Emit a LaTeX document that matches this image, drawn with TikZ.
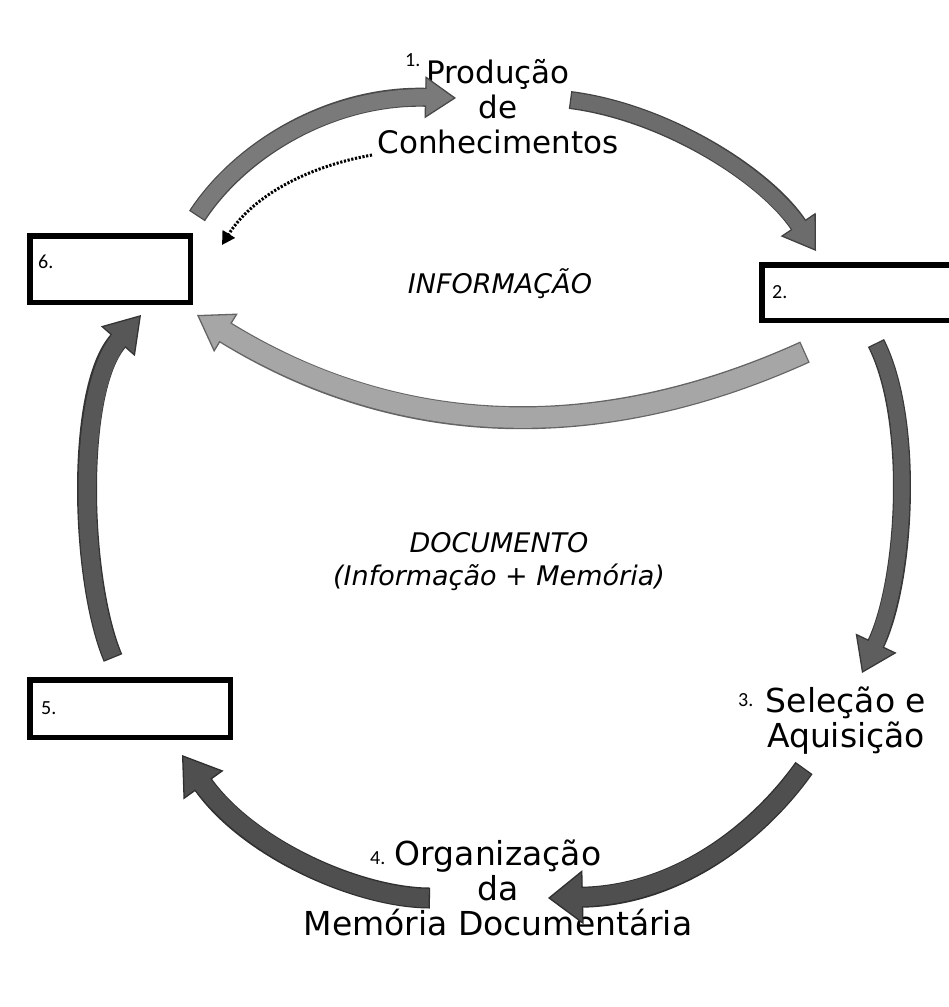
\documentclass[tikz,border=0pt]{standalone}
\usepackage{fontspec}
\setmainfont{DejaVu Sans}
\newfontfamily\numfont{Carlito}
\usetikzlibrary{arrows.meta}
\definecolor{gA}{HTML}{7A7A7A}
\definecolor{gB}{HTML}{6C6C6C}
\definecolor{gC}{HTML}{A6A6A6}
\definecolor{gD}{HTML}{5E5E5E}
\definecolor{gE}{HTML}{4F4F4F}
\definecolor{gF}{HTML}{575757}
\newcommand\fatarr[5]{%
  \draw[line width=#2, draw=#1!60!black, -{Triangle[width=#3,length=#4,fill=#1,line width'=1.3pt]}] #5;
  \draw[line width=#2-2.6pt, draw=#1, shorten >=#4-4pt, shorten <=1.3pt] #5;
}
\tikzset{
  lbl/.style={font=\fontsize{31}{35}\selectfont, align=center, inner sep=0pt},
  lblb/.style={font=\fontsize{33}{35}\selectfont, align=center, inner sep=0pt},
  ital/.style={font=\fontsize{27}{33}\selectfont\itshape, align=center, inner sep=0pt},
  num/.style={font=\numfont\fontsize{20}{20}\selectfont, inner sep=0pt, anchor=base west},
  boxn/.style={draw, line width=5.5pt, inner sep=0pt},
}
\begin{document}
\begin{tikzpicture}[x=1pt,y=-1pt]
\useasboundingbox[fill=white] (0,0) rectangle (949,1007);

% boxes
\node[boxn, minimum width=160.5pt, minimum height=66.5pt] (b6) at (110,269) {};
\node[boxn, minimum width=200pt, minimum height=55.5pt] (b2) at (861.75,292.5) {};
\node[boxn, minimum width=200.5pt, minimum height=57.5pt] (b5) at (130,708.5) {};
\node[num] (l6) at (38,268) {6.};
\node[num] (l2) at (772,298) {2.};
\node[num] (l5) at (41,714) {5.};

% texts
\node[lbl, anchor=base] (n1) at (498,153) {Produção\\de\\Conhecimentos};
\node[num] (l1) at (405,66) {1.};
\node[lblb, anchor=base] (n3) at (846,747) {Seleção e\\Aquisição};
\node[num] (l3) at (738,706) {3.};
\node[lblb, anchor=base] (n4) at (498,935) {Organização\\da\\Memória Documentária};
\node[num] (l4) at (370,864) {4.};
\node[ital, anchor=base] (info) at (500,293) {INFORMAÇÃO};
\node[ital, anchor=base] (doc) at (499,585) {DOCUMENTO\\(Informação + Memória)};

% arrow coordinates
\coordinate (a1s) at (197,216); \coordinate (a1a) at (240,150); \coordinate (a1b) at (330,95); \coordinate (a1e) at (456,98);
\coordinate (a2s) at (570,100); \coordinate (a2a) at (665,112); \coordinate (a2b) at (765,175); \coordinate (a2e) at (816,251);
\coordinate (a3s) at (805,352); \coordinate (a3a) at (600,445); \coordinate (a3b) at (400,440); \coordinate (a3e) at (197,315);
\coordinate (a4s) at (876,343); \coordinate (a4a) at (915,420); \coordinate (a4b) at (906,580); \coordinate (a4e) at (862,673);
\coordinate (a5s) at (804,768); \coordinate (a5a) at (760,830); \coordinate (a5b) at (680,895); \coordinate (a5e) at (548,898);
\coordinate (a6s) at (430,898); \coordinate (a6a) at (360,898); \coordinate (a6b) at (250,850); \coordinate (a6e) at (182,755);
\coordinate (a7s) at (113,658); \coordinate (a7a) at (80,580); \coordinate (a7b) at (75,390); \coordinate (a7e) at (141,315);
\coordinate (dts) at (372,155); \coordinate (dte) at (222,245);

\fatarr{gA}{19pt}{42pt}{31pt}{(a1s) .. controls (a1a) and (a1b) .. (a1e)}
\fatarr{gB}{18pt}{42pt}{32pt}{(a2s) .. controls (a2a) and (a2b) .. (a2e)}
\fatarr{gC}{23pt}{45pt}{34pt}{(a3s) .. controls (a3a) and (a3b) .. (a3e)}
\fatarr{gD}{18pt}{45pt}{33pt}{(a4s) .. controls (a4a) and (a4b) .. (a4e)}
\fatarr{gE}{21pt}{54pt}{35pt}{(a5s) .. controls (a5a) and (a5b) .. (a5e)}
\fatarr{gE}{21pt}{49pt}{37pt}{(a6s) .. controls (a6a) and (a6b) .. (a6e)}
\fatarr{gF}{20pt}{45pt}{35pt}{(a7s) .. controls (a7a) and (a7b) .. (a7e)}

\draw[line width=3pt, dash pattern=on 2.2pt off 1.6pt, -{Triangle[width=14pt,length=13pt]}]
  (dts) .. controls (300,168) and (250,200) .. (dte);
\end{tikzpicture}
\end{document}
